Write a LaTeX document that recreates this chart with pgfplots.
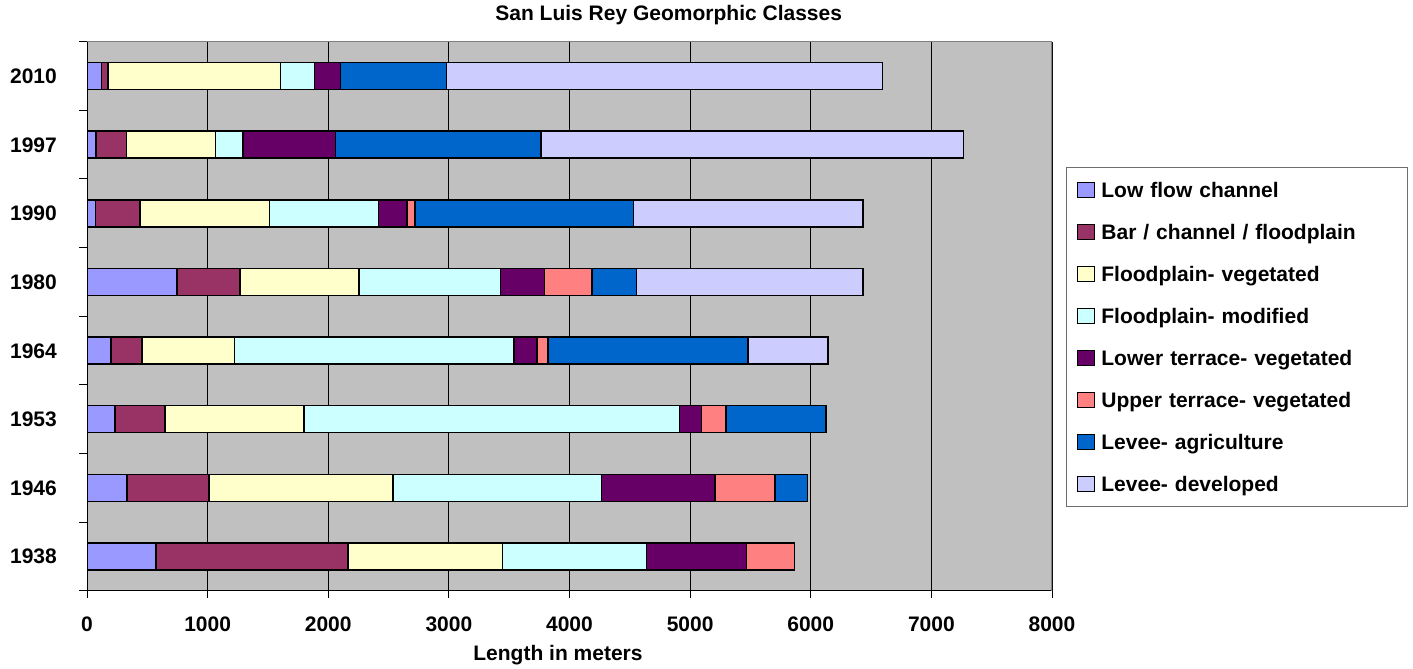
\documentclass[border=0pt]{standalone}
\usepackage{pgfplots}
\usepackage{pgfplotstable}
\pgfplotsset{compat=1.18}
\usepackage{fontspec}
\setmainfont{Liberation Sans}
\definecolor{cLF}{HTML}{9999FF}
\definecolor{cBAR}{HTML}{993366}
\definecolor{cFV}{HTML}{FFFFCC}
\definecolor{cFM}{HTML}{CCFFFF}
\definecolor{cLTV}{HTML}{660066}
\definecolor{cUTV}{HTML}{FF8080}
\definecolor{cLA}{HTML}{0066CC}
\definecolor{cLD}{HTML}{CCCCFF}
\definecolor{bggray}{HTML}{C0C0C0}
\definecolor{framegray}{HTML}{808080}
\definecolor{leggray}{HTML}{6E6E6E}
\pgfplotstableread{
y lf bar fv fm ltv utv la ld
0 571 1591 1283 1192 830 399 0 0
1 333 678 1527 1729 938 500 268 0
2 233 415 1151 3113 182 202 830 0
3 198 260 763 2320 188 91 1658 666
4 748 520 988 1170 365 396 367 1878
5 70 368 1073 905 238 66 1812 1900
6 73 255 738 227 766 0 1704 3503
7 120 53 1430 285 213 0 879 3616
}\geo
\begin{document}
\fontsize{21}{25}\selectfont\bfseries
\begin{tikzpicture}
\useasboundingbox (0,0) rectangle (1413pt,669pt);
\begin{axis}[
  at={(87pt,78.3pt)}, anchor=south west,
  scale only axis, width=965pt, height=549pt,
  xbar stacked, bar width=27pt,
  xmin=0, xmax=8000, ymin=-0.5, ymax=7.5,
  xtick={0,1000,...,8000},
  ytick={-0.5,0.5,...,7.5}, yticklabels={},
  extra y ticks={0,1,...,7},
  extra y tick labels={1938,1946,1953,1964,1980,1990,1997,2010},
  extra y tick style={major tick length=0pt,
    yticklabel style={anchor=base east, inner sep=0pt, xshift=-30pt, yshift=-7.5pt}},
  xtick pos=lower, ytick pos=left,
  tick align=outside, major tick length=7.5pt,
  tick style={black, line width=1pt},
  xmajorgrids, major grid style={black, line width=0.9pt},
  axis background/.style={fill=bggray},
  axis line style={draw=none},
  /pgf/number format/assume math mode=true,
  /pgf/number format/1000 sep={},
  xticklabel style={anchor=base, inner sep=0pt, yshift=-33pt},
  title={San Luis Rey Geomorphic Classes},
  title style={at={(axis description cs:0.6028,1.02732)}, anchor=base, inner sep=0pt},
  xlabel={Length in meters},
  xlabel style={at={(axis description cs:0.48808,-0.12623)}, anchor=base, inner sep=0pt},
  legend cell align=left,
  legend image code/.code={\draw[#1, draw=black, line width=1.2pt] (0pt,-7.5pt) rectangle (17pt,7.5pt);},
  legend style={at={(axis description cs:1.0142,0.77177)}, anchor=north west,
    draw=leggray, line width=1pt, fill=white,
    inner xsep=10.3pt, inner ysep=14.5pt,
    /tikz/row sep=25.8pt, /tikz/column sep=6.7pt,
    nodes={inner sep=0pt, text height=15pt, text depth=0pt, text width=296pt}},
]
\addplot[fill=cLF, draw=black, line width=1.5pt] table[x=lf, y=y]{\geo};
\addplot[fill=cBAR, draw=black, line width=1.5pt] table[x=bar, y=y]{\geo};
\addplot[fill=cFV, draw=black, line width=1.5pt] table[x=fv, y=y]{\geo};
\addplot[fill=cFM, draw=black, line width=1.5pt] table[x=fm, y=y]{\geo};
\addplot[fill=cLTV, draw=black, line width=1.5pt] table[x=ltv, y=y]{\geo};
\addplot[fill=cUTV, draw=black, line width=1.5pt] table[x=utv, y=y]{\geo};
\addplot[fill=cLA, draw=black, line width=1.5pt] table[x=la, y=y]{\geo};
\addplot[fill=cLD, draw=black, line width=1.5pt] table[x=ld, y=y]{\geo};
\legend{Low flow channel, Bar / channel / floodplain, Floodplain- vegetated, Floodplain- modified, Lower terrace- vegetated, Upper terrace- vegetated, Levee- agriculture, Levee- developed}
\draw[framegray, line width=1.5pt] (rel axis cs:0,1) -- (rel axis cs:1,1) -- (rel axis cs:1,0);
\draw[black, line width=1.5pt] (rel axis cs:0,1) -- (rel axis cs:0,0) -- (rel axis cs:1,0);
\end{axis}
\end{tikzpicture}
\end{document}
